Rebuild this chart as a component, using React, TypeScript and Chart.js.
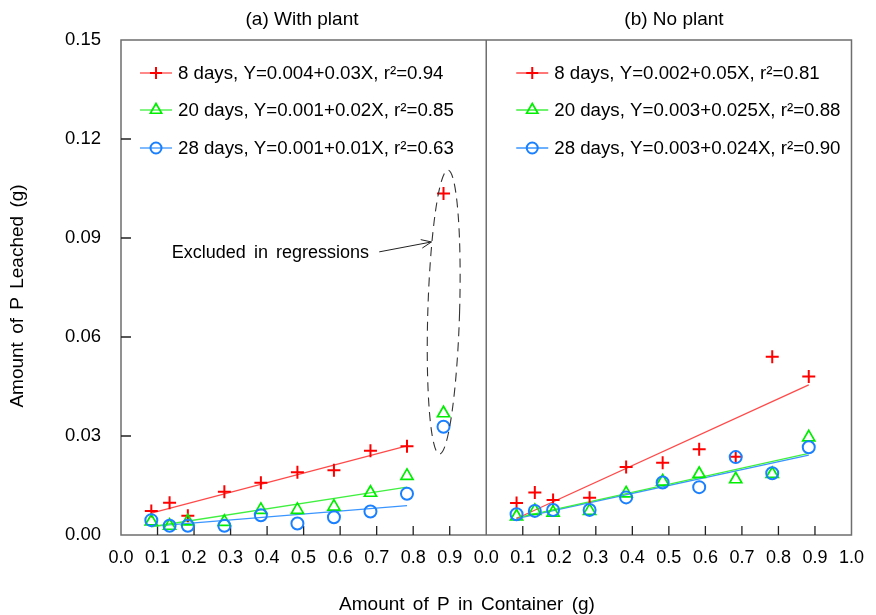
import React, { useEffect, useRef } from "react";
import { Chart, registerables } from "chart.js";

Chart.register(...registerables);

// ---- Data ----
// Amount of P in container (g), same levels for both panels; the last level is the excluded one in panel (a)
const pLevels = [0.083, 0.133, 0.183, 0.283, 0.383, 0.483, 0.583, 0.683, 0.783, 0.883];

// (a) With plant
const withPlant8 = [0.0073, 0.0098, 0.0058, 0.0131, 0.0158, 0.019, 0.0196, 0.0255, 0.0269, 0.1035];
const withPlant20 = [0.0041, 0.0028, 0.0041, 0.004, 0.0076, 0.0076, 0.0086, 0.0128, 0.0179, 0.0369];
const withPlant28 = [0.0045, 0.0028, 0.0028, 0.0028, 0.006, 0.0035, 0.0054, 0.0071, 0.0125, 0.0328];

// (b) No plant
const noPlant8 = [0.0097, 0.0129, 0.0106, 0.0113, 0.0206, 0.0219, 0.026, 0.0237, 0.054, 0.048];
const noPlant20 = [0.0056, 0.0073, 0.0068, 0.0073, 0.0126, 0.0162, 0.0185, 0.0169, 0.0185, 0.0296];
const noPlant28 = [0.0063, 0.0073, 0.0076, 0.0076, 0.0114, 0.0159, 0.0145, 0.0236, 0.0187, 0.0266];

// Regression line end points [x, y]
const withPlantFit8 = [[0.083, 0.0066], [0.783, 0.027]];
const withPlantFit20 = [[0.083, 0.0025], [0.783, 0.0145]];
const withPlantFit28 = [[0.083, 0.0026], [0.783, 0.0089]];
const noPlantFit8 = [[0.083, 0.005], [0.883, 0.0455]];
const noPlantFit20 = [[0.083, 0.0052], [0.883, 0.0247]];
const noPlantFit28 = [[0.083, 0.005], [0.883, 0.0242]];

const legendWithPlant = [
  "8 days, Y=0.004+0.03X, r\u00B2=0.94",
  "20 days, Y=0.001+0.02X, r\u00B2=0.85",
  "28 days, Y=0.001+0.01X, r\u00B2=0.63",
];
const legendNoPlant = [
  "8 days, Y=0.002+0.05X, r\u00B2=0.81",
  "20 days, Y=0.003+0.025X, r\u00B2=0.88",
  "28 days, Y=0.003+0.024X, r\u00B2=0.90",
];
const panelTitles = ["(a) With plant", "(b) No plant"];
const xTitle = "Amount of P in Container (g)";
const yTitle = "Amount of P Leached (g)";
const annotationText = "Excluded in regressions";

const yTicks = [0, 0.03, 0.06, 0.09, 0.12, 0.15];

// ---- Styles ----
const RED = "#ff0000";
const GREEN = "#00ee00";
const BLUE = "#1a80ff";
const RED_LINE = "#ff4a4a";
const GREEN_LINE = "#40f040";
const BLUE_LINE = "#3a95ff";
const FONT = "'Liberation Sans', Arial, sans-serif";
const PANEL_OFFSET = 1.0; // panel (b) is drawn on x in [1, 2]

const markerStyles = [
  { style: "cross", color: RED, line: RED_LINE, radius: 6.5, width: 2 },
  { style: "triangle", color: GREEN, line: GREEN_LINE, radius: 7, width: 1.7 },
  { style: "circle", color: BLUE, line: BLUE_LINE, radius: 6, width: 2 },
];

function pts(ys: number[], offset: number) {
  return ys.map((y, i) => ({ x: pLevels[i] + offset, y }));
}
function fitPts(p: number[][], offset: number) {
  return p.map(([x, y]) => ({ x: x + offset, y }));
}

function drawMarker(ctx: CanvasRenderingContext2D, style: string, x: number, y: number, r: number, color: string, w: number) {
  ctx.save();
  ctx.strokeStyle = color;
  ctx.lineWidth = w;
  ctx.beginPath();
  if (style === "cross") {
    ctx.moveTo(x - r, y);
    ctx.lineTo(x + r, y);
    ctx.moveTo(x, y - r);
    ctx.lineTo(x, y + r);
  } else if (style === "triangle") {
    ctx.moveTo(x, y - r);
    ctx.lineTo(x - r * 0.866, y + r * 0.5);
    ctx.lineTo(x + r * 0.866, y + r * 0.5);
    ctx.closePath();
  } else {
    ctx.arc(x, y, r, 0, Math.PI * 2);
  }
  ctx.stroke();
  ctx.restore();
}

const decorPlugin = {
  id: "decor",
  beforeDatasetsDraw(chart: any) {
    const { ctx, chartArea: a, scales } = chart;
    const xs = scales.x;
    ctx.save();
    ctx.strokeStyle = "#6e6e6e";
    ctx.lineWidth = 1.5;
    ctx.strokeRect(a.left, a.top, a.right - a.left, a.bottom - a.top);
    const div = xs.getPixelForValue(PANEL_OFFSET);
    ctx.beginPath();
    ctx.moveTo(div, a.top);
    ctx.lineTo(div, a.bottom);
    ctx.stroke();
    // inward ticks on bottom
    ctx.lineWidth = 1.3;
    ctx.strokeStyle = "#222";
    ctx.beginPath();
    for (let k = 1; k <= 19; k++) {
      if (k === 10) continue;
      const px = xs.getPixelForValue(k / 10);
      ctx.moveTo(px, a.bottom);
      ctx.lineTo(px, a.bottom - 9);
    }
    // inward ticks on left
    for (let k = 1; k < yTicks.length - 1; k++) {
      const py = scales.y.getPixelForValue(yTicks[k]);
      ctx.moveTo(a.left, py);
      ctx.lineTo(a.left + 10, py);
    }
    ctx.stroke();
    ctx.restore();
  },
  afterDraw(chart: any) {
    const { ctx, chartArea: a, scales } = chart;
    const xs = scales.x;
    const ys = scales.y;
    ctx.save();
    ctx.fillStyle = "#000";
    ctx.textBaseline = "middle";

    // panel titles
    ctx.font = `19px ${FONT}`;
    ctx.textAlign = "center";
    ctx.fillText(panelTitles[0], 302, 20);
    ctx.fillText(panelTitles[1], 674, 20);

    // axis titles
    ctx.font = `19px ${FONT}`;
    (ctx as any).wordSpacing = "3px";
    ctx.fillText(xTitle, 467, 605);
    ctx.save();
    ctx.translate(18, 296);
    ctx.rotate(-Math.PI / 2);
    ctx.fillText(yTitle, 0, 0);
    ctx.restore();
    (ctx as any).wordSpacing = "0px";

    // legends
    const rowsY = [73, 110, 148];
    const drawLegend = (texts: string[], x0: number) => {
      texts.forEach((t, i) => {
        const m = markerStyles[i];
        const y = rowsY[i];
        ctx.strokeStyle = m.line;
        ctx.lineWidth = 1.3;
        ctx.beginPath();
        ctx.moveTo(x0, y);
        ctx.lineTo(x0 + 32, y);
        ctx.stroke();
        drawMarker(ctx, m.style, x0 + 16, y, m.style === "cross" ? 6 : m.style === "triangle" ? 6.5 : 5.5, m.color, m.width);
        ctx.fillStyle = "#000";
        ctx.textAlign = "left";
        ctx.font = `18.7px ${FONT}`;
        ctx.fillText(t, x0 + 38, y + 1);
      });
    };
    drawLegend(legendWithPlant, a.left + 19);
    drawLegend(legendNoPlant, xs.getPixelForValue(PANEL_OFFSET) + 30);

    // annotation
    ctx.font = `18px ${FONT}`;
    (ctx as any).wordSpacing = "3px";
    ctx.textAlign = "center";
    ctx.fillText(annotationText, xs.getPixelForValue(0.409), ys.getPixelForValue(0.0855));
    (ctx as any).wordSpacing = "0px";

    const sx = xs.getPixelForValue(0.707), sy = ys.getPixelForValue(0.0858);
    const ex = xs.getPixelForValue(0.85), ey = ys.getPixelForValue(0.0888);
    ctx.strokeStyle = "#222";
    ctx.lineWidth = 1;
    ctx.beginPath();
    ctx.moveTo(sx, sy);
    ctx.lineTo(ex, ey);
    const ang = Math.atan2(ey - sy, ex - sx);
    ctx.moveTo(ex, ey);
    ctx.lineTo(ex - 11 * Math.cos(ang - 0.4), ey - 11 * Math.sin(ang - 0.4));
    ctx.moveTo(ex, ey);
    ctx.lineTo(ex - 11 * Math.cos(ang + 0.4), ey - 11 * Math.sin(ang + 0.4));
    ctx.stroke();

    // dashed ellipse around excluded points
    const l = xs.getPixelForValue(0.84), r = xs.getPixelForValue(0.927);
    const t = ys.getPixelForValue(0.1106), b = ys.getPixelForValue(0.0245);
    ctx.setLineDash([9, 6]);
    ctx.strokeStyle = "#333";
    ctx.lineWidth = 1.1;
    ctx.beginPath();
    ctx.ellipse((l + r) / 2, (t + b) / 2, (r - l) / 2, (b - t) / 2, 0.03, 0, Math.PI * 2);
    ctx.stroke();
    ctx.restore();
  },
};

export default function App() {
  const ref = useRef<HTMLCanvasElement | null>(null);
  useEffect(() => {
    document.body.style.margin = "0";
    if (!ref.current) return;
    const scatter = (data: any[], i: number) => ({
      type: "scatter" as const,
      data,
      showLine: false,
      pointStyle: markerStyles[i].style,
      pointRadius: markerStyles[i].radius,
      pointBorderColor: markerStyles[i].color,
      pointBackgroundColor: "rgba(0,0,0,0)",
      pointBorderWidth: markerStyles[i].width,
      order: 1,
    });
    const fit = (data: any[], i: number) => ({
      type: "line" as const,
      data,
      borderColor: markerStyles[i].line,
      borderWidth: 1.3,
      pointRadius: 0,
      fill: false,
      order: 2,
    });
    const chart = new Chart(ref.current, {
      type: "scatter",
      data: {
        datasets: [
          fit(fitPts(withPlantFit8, 0), 0),
          fit(fitPts(withPlantFit20, 0), 1),
          fit(fitPts(withPlantFit28, 0), 2),
          fit(fitPts(noPlantFit8, PANEL_OFFSET), 0),
          fit(fitPts(noPlantFit20, PANEL_OFFSET), 1),
          fit(fitPts(noPlantFit28, PANEL_OFFSET), 2),
          scatter(pts(withPlant28, 0), 2),
          scatter(pts(withPlant20, 0), 1),
          scatter(pts(withPlant8, 0), 0),
          scatter(pts(noPlant28, PANEL_OFFSET), 2),
          scatter(pts(noPlant20, PANEL_OFFSET), 1),
          scatter(pts(noPlant8, PANEL_OFFSET), 0),
        ] as any,
      },
      options: {
        animation: false,
        responsive: true,
        maintainAspectRatio: false,
        layout: { padding: { top: 40, right: 16, left: 0, bottom: 0 } },
        plugins: { legend: { display: false }, tooltip: { enabled: false }, title: { display: false } },
        scales: {
          x: {
            type: "linear",
            min: 0,
            max: 2,
            grid: { display: false, drawTicks: false },
            border: { display: false },
            afterFit: (s: any) => {
              s.height = 80;
            },
            afterBuildTicks: (s: any) => {
              const t = [];
              for (let k = 0; k <= 20; k++) t.push({ value: k / 10 });
              s.ticks = t;
            },
            ticks: {
              autoSkip: false,
              maxRotation: 0,
              padding: 12,
              color: "#000",
              font: { family: FONT, size: 18 },
              callback: (v: any) => {
                const n = Number(v);
                return (n < 1 - 1e-9 ? n : n - 1).toFixed(1);
              },
            },
          },
          y: {
            type: "linear",
            min: 0,
            max: 0.15,
            grid: { display: false, drawTicks: false },
            border: { display: false },
            afterFit: (s: any) => {
              s.width = 121;
            },
            afterBuildTicks: (s: any) => {
              s.ticks = yTicks.map((v) => ({ value: v }));
            },
            ticks: {
              padding: 20,
              color: "#000",
              font: { family: FONT, size: 18.5 },
              callback: (v: any) => Number(v).toFixed(2),
            },
          },
        },
      },
      plugins: [decorPlugin],
    });
    return () => chart.destroy();
  }, []);
  return (
    <div style={{ position: "fixed", left: 0, top: 0, width: 876, height: 615, background: "#fff" }}>
      <canvas ref={ref} />
    </div>
  );
}
